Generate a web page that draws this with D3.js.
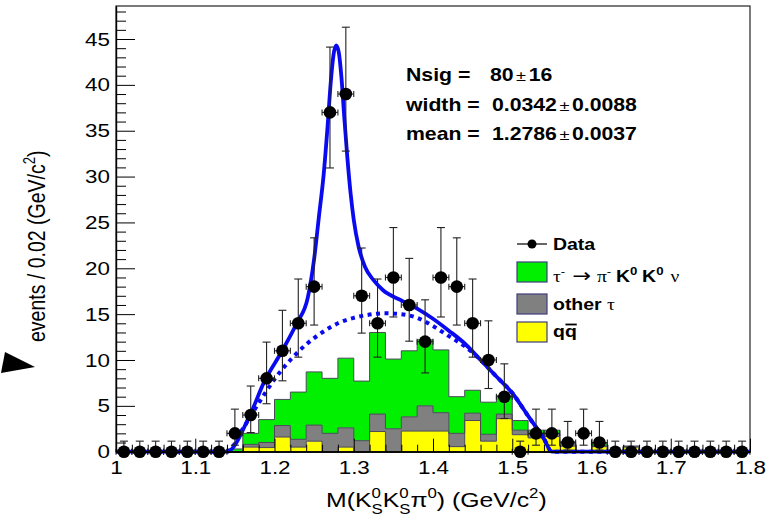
<!DOCTYPE html>
<html>
<head>
<meta charset="utf-8">
<script src="https://cdn.jsdelivr.net/npm/d3@7"></script>
<style>
  body { margin: 0; background: #fff; }
  svg { display: block; }
  text { font-family: "Liberation Sans", Arial, Helvetica, sans-serif; white-space: pre; fill: #000; }
</style>
</head>
<body>
<svg id="chart" width="771" height="528"></svg>
<script>
// ---- binning: 40 bins of 0.02 GeV/c^2 from 1.0 to 1.8 ----
const binCenters = [
  1.01, 1.03, 1.05, 1.07, 1.09, 1.11, 1.13, 1.15, 1.17, 1.19,
  1.21, 1.23, 1.25, 1.27, 1.29, 1.31, 1.33, 1.35, 1.37, 1.39,
  1.41, 1.43, 1.45, 1.47, 1.49, 1.51, 1.53, 1.55, 1.57, 1.59,
  1.61, 1.63, 1.65, 1.67, 1.69, 1.71, 1.73, 1.75, 1.77, 1.79
];
const binHalfWidth = 0.01;

// observed events per bin with asymmetric (Poisson) errors
const dataCounts = [
  0, 0, 0, 0, 0, 0, 0, 2, 4, 8,
  11, 14, 18, 37, 39, 17, 14, 19, 16, 12,
  19, 18, 14, 10, 6, 0, 2, 2, 1, 2,
  1, 0, 0, 0, 0, 0, 0, 0, 0, 0
];
const dataErrLow = [
  0, 0, 0, 0, 0, 0, 0, 1.29, 1.91, 2.77,
  3.27, 3.69, 4.19, 6.06, 6.22, 4.07, 3.69, 4.31, 3.95, 3.41,
  4.31, 4.19, 3.69, 3.11, 2.38, 0, 1.29, 1.29, 0.83, 1.29,
  0.83, 0, 0, 0, 0, 0, 0, 0, 0, 0
];
const dataErrHigh = [
  1.15, 1.15, 1.15, 1.15, 1.15, 1.15, 1.15, 2.64, 3.16, 3.95,
  4.42, 4.83, 5.32, 7.12, 7.29, 5.21, 4.83, 5.44, 5.08, 4.56,
  5.44, 5.32, 4.83, 4.27, 3.58, 1.15, 2.64, 2.64, 2.30, 2.64,
  2.30, 1.15, 1.15, 1.15, 1.15, 1.15, 1.15, 1.15, 1.15, 1.15
];

// stacked MC components (bottom to top)
const qqbar = [
  0, 0, 0, 0, 0, 0, 0, 0, 0.5, 0.45,
  1.6, 0.5, 1.15, 0, 0.5, 0, 2.2, 0, 2.25, 2.25,
  2.25, 0.55, 3.4, 1.15, 3.6, 1.85, 1.5, 1.65, 0.6, 0,
  0.55, 0, 0.5, 0, 0, 0, 0, 0, 0, 0
];
const otherTau = [
  0, 0, 0, 0, 0, 0, 0, 0, 0.3, 0.55,
  1.25, 0.85, 1.75, 2.0, 2.1, 1.2, 1.9, 2.5, 1.55, 2.75,
  2.0, 1.45, 0.8, 0.75, 0.5, 0.5, 0.4, 0.3, 0.3, 0,
  0.1, 0, 0.1, 0, 0, 0, 0, 0, 0, 0
];
const sigTauKK = [
  0, 0, 0, 0, 0, 0, 0, 0.3, 1.2, 2.5,
  2.85, 5.15, 5.8, 6.0, 7.6, 6.5, 8.9, 7.6, 7.2, 7.2,
  6.85, 4.0, 2.5, 3.5, 2.0, 1.05, 0.45, 0.4, 0.2, 0,
  0.25, 0, 0, 0, 0, 0, 0, 0, 0, 0
];

// fitted curves: [mass, events per bin]
const fitTotal = [
  [1.00, 0], [1.14, 0], [1.168, 3.8], [1.188, 7.8], [1.209, 10.9], [1.228, 14.0],
  [1.242, 16.8], [1.250, 21.0], [1.256, 25.6], [1.262, 30.2], [1.267, 35.5],
  [1.271, 40.3], [1.2745, 43.3], [1.2778, 44.3], [1.281, 43.6], [1.2845, 40.8],
  [1.288, 36.5], [1.292, 32.0], [1.296, 28.2], [1.300, 25.3], [1.306, 22.4],
  [1.314, 20.2], [1.325, 18.7], [1.337, 17.6], [1.36, 16.5], [1.38, 15.6],
  [1.40, 14.5], [1.42, 13.2], [1.44, 11.8], [1.46, 10.0], [1.48, 8.2],
  [1.50, 6.4], [1.52, 3.9], [1.54, 1.4], [1.55, 0], [1.80, 0]
];
const fitBackground = [
  [1.00, 0], [1.14, 0], [1.16, 2.5], [1.18, 5.3], [1.20, 7.9], [1.22, 10.0],
  [1.24, 11.7], [1.26, 13.0], [1.28, 14.0], [1.30, 14.6], [1.32, 14.95],
  [1.34, 15.1], [1.36, 15.0], [1.38, 14.6], [1.40, 13.7], [1.42, 12.6],
  [1.44, 11.5], [1.46, 10.0], [1.48, 8.2], [1.50, 6.4], [1.52, 3.9],
  [1.54, 1.4], [1.55, 0], [1.80, 0]
];

// axis ticks
const xMajorTicks = [1.0, 1.1, 1.2, 1.3, 1.4, 1.5, 1.6, 1.7, 1.8];
const xTickLabels = ["1", "1.1", "1.2", "1.3", "1.4", "1.5", "1.6", "1.7", "1.8"];
const yMajorTicks = [0, 5, 10, 15, 20, 25, 30, 35, 40, 45];

// fit result box
const fitNames = ["Nsig =", "width =", "mean ="];
const fitValues = ["80", "0.0342", "1.2786"];
const fitErrors = ["16", "0.0088", "0.0037"];

// legend entries
const legendFills = ["#00f000", "#808080", "#ffff00"];

// ---- drawing ----
const SX = 1.18;           // horizontal text stretch
const svg = d3.select("#chart");
const BLUE = "#0a0af0";

const x = d3.scaleLinear().domain([1.0, 1.8]).range([116, 750]);
const y = d3.scaleLinear().domain([0, 48.6]).range([451.7, 6]);

// text with super/subscripts laid out run by run
function richText(parent, x0, y0, parts, opt) {
  const tf = `translate(${x0},${y0}) scale(${opt.sx ?? SX},1)` + (opt.rotate ? ` rotate(${opt.rotate})` : "");
  const g = parent.append("g").attr("transform", tf);
  let cx = 0, scriptStart = 0;
  for (const p of parts) {
    const size = p.size ?? (p.script ? opt.size * 0.68 : opt.size);
    const dy = (p.dy ?? 0) + (p.script === "sup" ? -opt.size * 0.45 : p.script === "sub" ? opt.size * 0.32 : 0);
    const sx = p.stack ? scriptStart : cx + (p.gap || 0);
    const t = g.append("text")
      .attr("x", sx).attr("y", dy)
      .attr("font-size", size)
      .attr("font-weight", (p.bold ?? opt.bold) ? "bold" : "normal")
      .text(p.t);
    if (p.font) t.style("font-family", p.font);
    const w = t.node().getComputedTextLength();
    if (!p.stack) scriptStart = sx;
    cx = p.stack ? Math.max(cx, sx + w) : sx + w;
  }
  return { g, width: cx };
}

// stacked histogram
const rows = binCenters.map((c, i) => ({ c, qq: qqbar[i], other: otherTau[i], sig: sigTauKK[i] }));
const stack = d3.stack().keys(["qq", "other", "sig"])(rows);
const stackFill = { qq: "#ffff00", other: "#808080", sig: "#00f000" };

const stepPts = s => s.flatMap(d => [
  { x: d.data.c - binHalfWidth, y0: d[0], y1: d[1] },
  { x: d.data.c + binHalfWidth, y0: d[0], y1: d[1] }
]);
const area = d3.area().x(d => x(d.x)).y0(d => y(d.y0)).y1(d => y(d.y1));
const topLine = d3.line().x(d => x(d.x)).y(d => y(d.y1));

const hist = svg.append("g");
stack.forEach(s => {
  hist.append("path").attr("d", area(stepPts(s))).attr("fill", stackFill[s.key]).attr("stroke", "none");
});
stack.forEach(s => {
  hist.append("path").attr("d", topLine(stepPts(s))).attr("fill", "none")
    .attr("stroke", "#4a4a5a").attr("stroke-width", 1);
});

// fit curves
const curve = d3.line().x(d => x(d[0])).y(d => y(d[1])).curve(d3.curveMonotoneX);
svg.append("path").attr("d", curve(fitBackground)).attr("fill", "none")
  .attr("stroke", BLUE).attr("stroke-width", 4).attr("stroke-dasharray", "4,4.5");
svg.append("path").attr("d", curve(fitTotal)).attr("fill", "none")
  .attr("stroke", BLUE).attr("stroke-width", 3.8).attr("stroke-linejoin", "round");

// data points with error bars
const pts = svg.append("g");
binCenters.forEach((c, i) => {
  const v = dataCounts[i];
  const px = x(c), py = y(v);
  const yl = y(v - dataErrLow[i]), yh = y(v + dataErrHigh[i]);
  const g = pts.append("g").attr("stroke", "#222").attr("stroke-width", 1.1);
  g.append("line").attr("x1", px).attr("x2", px).attr("y1", yl).attr("y2", yh);
  g.append("line").attr("x1", px - 4).attr("x2", px + 4).attr("y1", yh).attr("y2", yh);
  g.append("line").attr("x1", px - 4).attr("x2", px + 4).attr("y1", yl).attr("y2", yl);
  const xl = x(c - binHalfWidth), xr = x(c + binHalfWidth);
  g.append("line").attr("x1", xl).attr("x2", xr).attr("y1", py).attr("y2", py);
  g.append("line").attr("x1", xl).attr("x2", xl).attr("y1", py - 3).attr("y2", py + 3);
  g.append("line").attr("x1", xr).attr("x2", xr).attr("y1", py - 3).attr("y2", py + 3);
  pts.append("circle").attr("cx", px).attr("cy", py).attr("r", 6.3).attr("fill", "#000");
});

// frame
svg.append("rect").attr("x", 116).attr("y", 6).attr("width", 634).attr("height", 451.7 - 6)
  .attr("fill", "none").attr("stroke", "#222").attr("stroke-width", 1.2);

// axes (ticks pointing inward)
const xMinor = d3.range(1.0, 1.8001, 0.02).filter(v => Math.abs(v * 10 - Math.round(v * 10)) > 1e-6);
const yMinor = d3.range(0, 48.6, 1).filter(v => v % 5 !== 0);

const xAxis = svg.append("g").attr("transform", "translate(0,451.7)")
  .call(d3.axisBottom(x).tickValues(xMajorTicks).tickSize(-13).tickSizeOuter(0).tickPadding(8.5)
    .tickFormat((d, i) => xTickLabels[i]));
svg.append("g").attr("transform", "translate(0,451.7)")
  .call(d3.axisBottom(x).tickValues(xMinor).tickSize(-7).tickSizeOuter(0).tickFormat(""));
const yAxis = svg.append("g").attr("transform", "translate(116,0)")
  .call(d3.axisLeft(y).tickValues(yMajorTicks).tickSize(-19).tickSizeOuter(0).tickPadding(6));
svg.append("g").attr("transform", "translate(116,0)")
  .call(d3.axisLeft(y).tickValues(yMinor).tickSize(-10).tickSizeOuter(0).tickFormat(""));

svg.selectAll(".domain").attr("stroke", "#000").attr("stroke-width", 1.2);
svg.selectAll(".tick line").attr("stroke", "#000").attr("stroke-width", 1);

xAxis.selectAll(".tick text").each(function () {
  const t = d3.select(this);
  const yy = +t.attr("y");
  t.attr("y", 0).attr("transform", `translate(0,${yy}) scale(${SX},1)`);
}).attr("font-size", 19).attr("font-family", null);
yAxis.selectAll(".tick text").each(function () {
  const t = d3.select(this);
  const xx = +t.attr("x");
  t.attr("x", 0).attr("transform", `translate(${xx},0) scale(${SX},1)`);
}).attr("font-size", 19).attr("font-family", null);

// axis titles
richText(svg, 326, 507, [
  { t: "M(K" }, { t: "0", script: "sup" }, { t: "S", script: "sub", stack: true },
  { t: "K" }, { t: "0", script: "sup" }, { t: "S", script: "sub", stack: true },
  { t: "π" }, { t: "0", script: "sup" },
  { t: ") (GeV/c" }, { t: "2", script: "sup" }, { t: ")" }
], { size: 21 });

richText(svg, 45, 342, [
  { t: "events / 0.02 (GeV/c" }, { t: "2", script: "sup" }, { t: ")" }
], { size: 19.5, rotate: -90 });

// left-margin arrow marker
svg.append("polygon").attr("points", "5,352 35,367 1,373").attr("fill", "#000");

// fit results
const fitBaselines = [81, 111, 140];
const valueX = [490, 492, 492];
fitNames.forEach((n, i) => {
  const by = fitBaselines[i];
  richText(svg, 406, by, [{ t: n }], { size: 18, bold: true });
  const v = richText(svg, valueX[i], by, [{ t: fitValues[i] }], { size: 18, bold: true });
  const pmX = valueX[i] + v.width * SX + 2.5;
  const pm = richText(svg, pmX, by - 0.5, [{ t: "±" }], { size: 15.5, bold: false });
  richText(svg, pmX + pm.width * SX + 2.5, by, [{ t: fitErrors[i] }], { size: 18, bold: true });
});

// legend
const leg = svg.append("g");
leg.append("line").attr("x1", 517).attr("x2", 547).attr("y1", 244).attr("y2", 244)
  .attr("stroke", "#000").attr("stroke-width", 1.2);
leg.append("circle").attr("cx", 532).attr("cy", 244).attr("r", 4.5).attr("fill", "#000");
richText(leg, 553, 250, [{ t: "Data" }], { size: 16.5, bold: true });

const boxY = [262, 294, 322];
legendFills.forEach((f, i) => {
  leg.append("rect").attr("x", 517).attr("y", boxY[i]).attr("width", 30).attr("height", 20)
    .attr("fill", f).attr("stroke", "#3c3c80").attr("stroke-width", 1.2);
});
const SERIF = "'Liberation Serif', 'DejaVu Serif', serif";
richText(leg, 553, 282, [
  { t: "τ", font: SERIF, bold: false }, { t: "-", script: "sup", bold: false },
  { t: "→", font: "'DejaVu Sans', sans-serif", bold: false, gap: 6, size: 19, dy: -0.5 },
  { t: "π", font: SERIF, bold: false, gap: 5 }, { t: "-", script: "sup", bold: false },
  { t: "K", gap: 4 }, { t: "0", script: "sup" },
  { t: "K", gap: 4 }, { t: "0", script: "sup" },
  { t: "ν", font: SERIF, bold: false, gap: 6 }
], { size: 16.5, bold: true });
richText(leg, 553, 310, [
  { t: "other " }, { t: "τ", font: SERIF, bold: false }
], { size: 16.5, bold: true });
const qq = richText(leg, 553, 337, [{ t: "q" }, { t: "q" }], { size: 16.5, bold: true });
qq.g.append("line").attr("x1", qq.width / 2 + 0.5).attr("x2", qq.width)
  .attr("y1", -12.5).attr("y2", -12.5).attr("stroke", "#000").attr("stroke-width", 1.8);
</script>
</body>
</html>
